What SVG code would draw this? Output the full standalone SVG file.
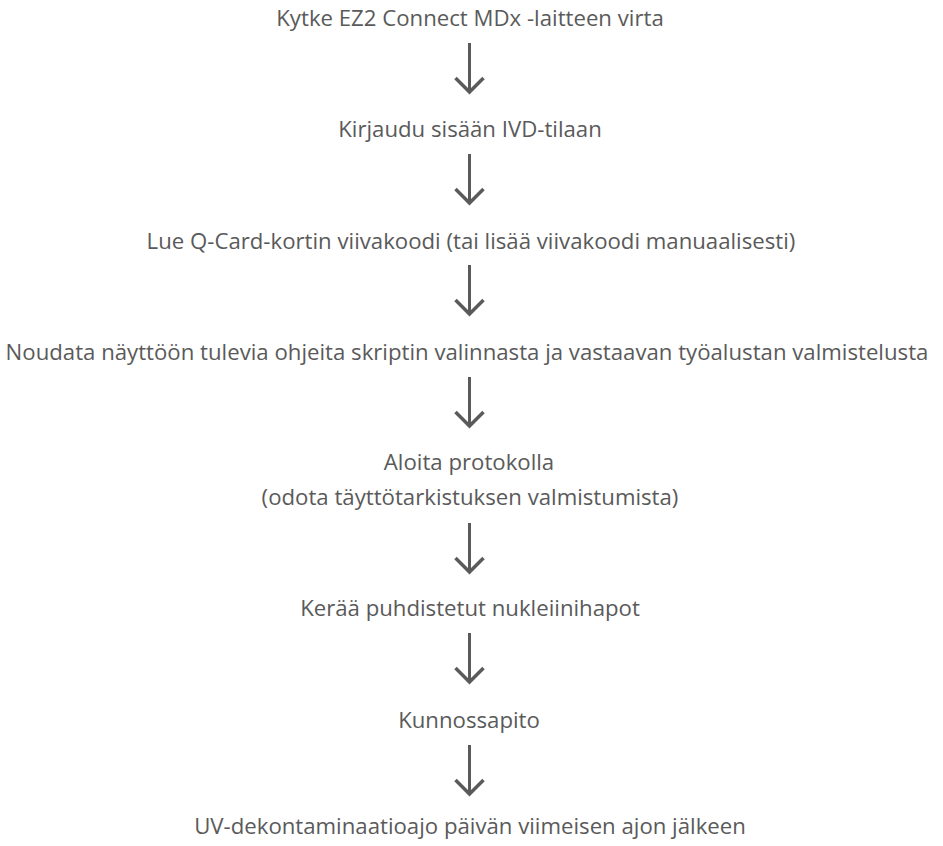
<svg xmlns="http://www.w3.org/2000/svg" width="943" height="846" viewBox="0 0 943 846">
<style>
.t{font-family:"Open Sans","Liberation Sans",sans-serif;font-size:22.2px;fill:#5a5a5a;text-anchor:middle}
.c line{stroke:#5a5a5a;stroke-width:3;fill:none}
.c path{stroke:#5a5a5a;stroke-width:3.5;fill:none;stroke-linejoin:miter;stroke-linecap:butt}
</style>
<rect width="943" height="846" fill="#fff"/>
<g id="n1"><text class="t" x="470" y="26">Kytke EZ2 Connect MDx -laitteen virta</text></g>
<g id="n2"><text class="t" x="470" y="137">Kirjaudu sisään IVD-tilaan</text></g>
<g id="n3"><text class="t" x="471" y="249">Lue Q-Card-kortin viivakoodi (tai lisää viivakoodi manuaalisesti)</text></g>
<g id="n4"><text class="t" x="467" y="360">Noudata näyttöön tulevia ohjeita skriptin valinnasta ja vastaavan työalustan valmistelusta</text></g>
<g id="n5"><text class="t" x="469" y="470">Aloita protokolla</text><text class="t" x="470" y="505">(odota täyttötarkistuksen valmistumista)</text></g>
<g id="n6"><text class="t" x="470" y="616">Kerää puhdistetut nukleiinihapot</text></g>
<g id="n7"><text class="t" x="469" y="728">Kunnossapito</text></g>
<g id="n8"><text class="t" x="470" y="834">UV-dekontaminaatioajo päivän viimeisen ajon jälkeen</text></g>
<g class="c" id="connectors">
<line x1="469.5" y1="43" x2="469.5" y2="91"/><path d="M455.5,78 L469.5,92 L483.5,78"/>
<line x1="469.5" y1="154" x2="469.5" y2="202"/><path d="M455.5,189 L469.5,203 L483.5,189"/>
<line x1="469.5" y1="265" x2="469.5" y2="313"/><path d="M455.5,300 L469.5,314 L483.5,300"/>
<line x1="469.5" y1="377" x2="469.5" y2="425"/><path d="M455.5,412 L469.5,426 L483.5,412"/>
<line x1="469.5" y1="523" x2="469.5" y2="571"/><path d="M455.5,558 L469.5,572 L483.5,558"/>
<line x1="469.5" y1="633" x2="469.5" y2="681"/><path d="M455.5,668 L469.5,682 L483.5,668"/>
<line x1="469.5" y1="745" x2="469.5" y2="793"/><path d="M455.5,780 L469.5,794 L483.5,780"/>
</g>
</svg>
